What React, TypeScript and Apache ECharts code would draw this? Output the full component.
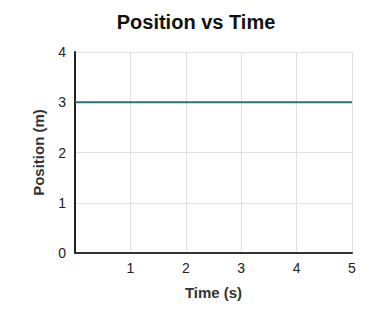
import React, { useEffect, useRef } from "react";
import * as echarts from "echarts";

const timeValues = [0, 1, 2, 3, 4, 5];
const positionValues = [3, 3, 3, 3, 3, 3];

export default function App() {
  const ref = useRef<HTMLDivElement>(null);
  useEffect(() => {
    if (!ref.current) return;
    const chart = echarts.init(ref.current, undefined, { renderer: "svg" });
    const font = "'Liberation Sans', Arial, sans-serif";
    chart.setOption({
      animation: false,
      backgroundColor: "#ffffff",
      title: {
        text: "Position vs Time",
        left: "center",
        top: 7,
        textStyle: { fontFamily: font, fontSize: 20, fontWeight: "bold", color: "#111" },
      },
      grid: { left: 75, right: 40, top: 52, bottom: 78 },
      xAxis: {
        type: "value",
        min: 0,
        max: 5,
        interval: 1,
        name: "Time (s)",
        nameLocation: "middle",
        nameGap: 32,
        nameTextStyle: { fontFamily: font, fontSize: 15, fontWeight: "bold", color: "#333" },
        axisLine: { show: true, lineStyle: { color: "#333", width: 2 } },
        axisTick: { show: false },
        axisLabel: {
          fontFamily: font,
          fontSize: 14,
          color: "#222",
          margin: 8,
          formatter: (v: number) => (v === 0 ? "" : String(v)),
        },
        splitLine: { show: true, lineStyle: { color: "#e0e0e0", width: 1 } },
      },
      yAxis: {
        type: "value",
        min: 0,
        max: 4,
        interval: 1,
        name: "Position (m)",
        nameLocation: "middle",
        nameGap: 29,
        nameTextStyle: { fontFamily: font, fontSize: 15, fontWeight: "bold", color: "#333" },
        axisLine: { show: true, lineStyle: { color: "#222", width: 2 } },
        axisTick: { show: false },
        axisLabel: { fontFamily: font, fontSize: 14, color: "#222", margin: 9 },
        splitLine: { show: true, lineStyle: { color: "#e0e0e0", width: 1 } },
      },
      series: [
        {
          type: "line",
          data: timeValues.map((t, i) => [t, positionValues[i]]),
          showSymbol: false,
          lineStyle: { color: "#2f6f7f", width: 2 },
        },
      ],
    });
    return () => chart.dispose();
  }, []);
  return (
    <div
      ref={ref}
      style={{ position: "fixed", left: 0, top: 0, width: 392, height: 331 }}
    />
  );
}
